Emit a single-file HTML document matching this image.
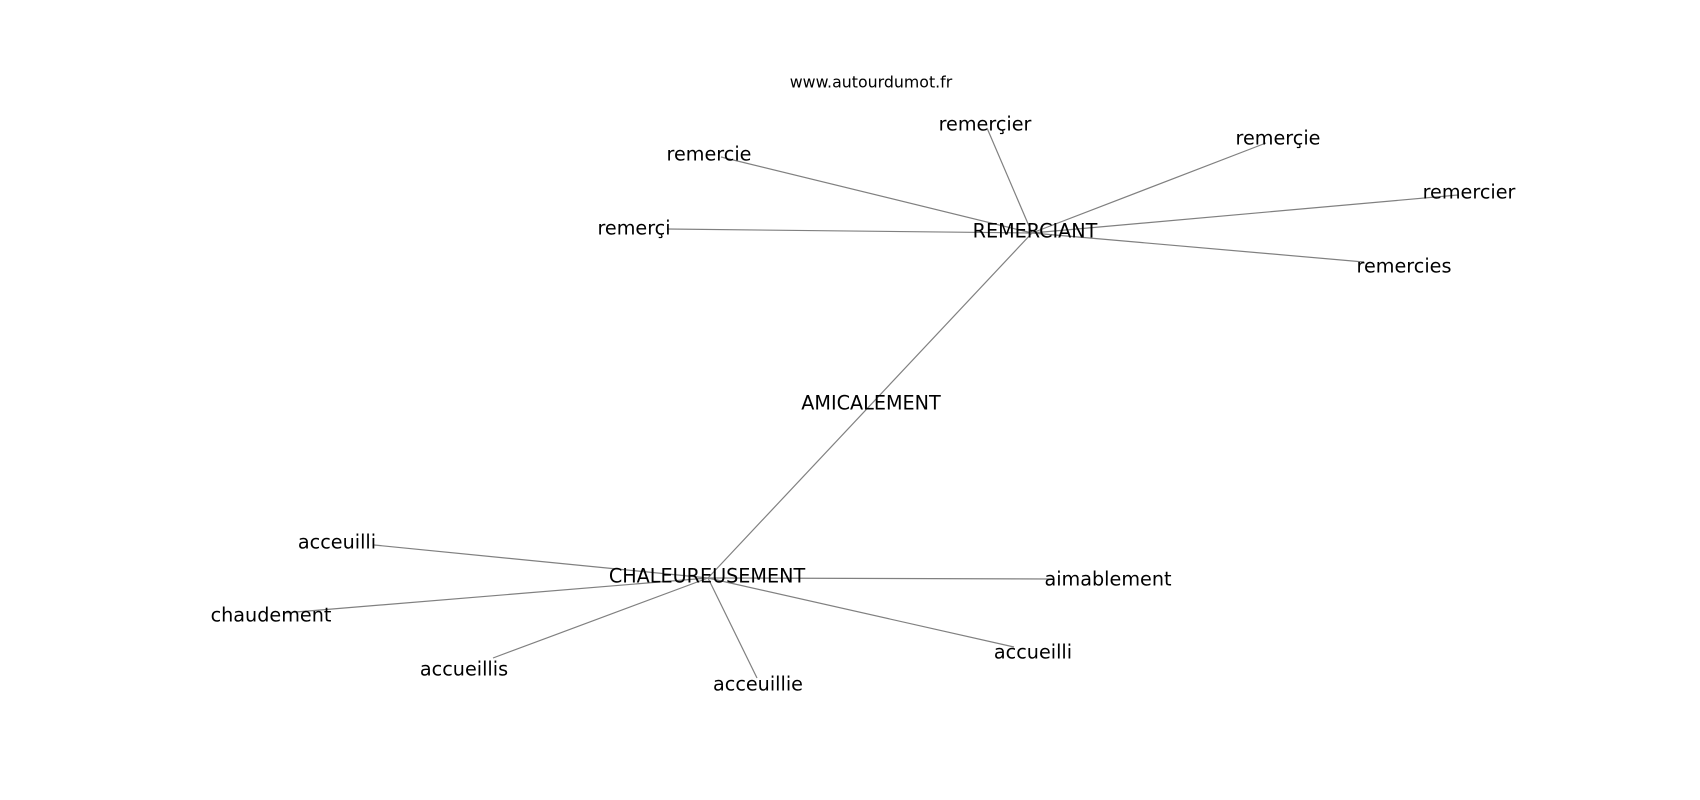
<!DOCTYPE html>
<html><head><meta charset="utf-8"><style>
html,body{margin:0;padding:0;background:#fff;}
svg{display:block;}
text{font-family:"DejaVu Sans","Liberation Sans",sans-serif;fill:#000;}
</style></head><body>
<svg width="1700" height="800" viewBox="0 0 1700 800" xmlns="http://www.w3.org/2000/svg">
<g stroke="#808080" stroke-width="1.2" fill="none">
<line x1="1032" y1="233" x2="987" y2="128"/>
<line x1="1032" y1="233" x2="721" y2="157"/>
<line x1="1032" y1="233" x2="667" y2="229"/>
<line x1="1032" y1="233" x2="1266" y2="143"/>
<line x1="1032" y1="233" x2="1458" y2="195"/>
<line x1="1032" y1="233" x2="1364" y2="262"/>
<line x1="1032" y1="233" x2="708" y2="578"/>
<line x1="708" y1="578" x2="374" y2="545"/>
<line x1="708" y1="578" x2="284" y2="613"/>
<line x1="708" y1="578" x2="493" y2="658"/>
<line x1="708" y1="578" x2="757" y2="678"/>
<line x1="708" y1="578" x2="1014" y2="647"/>
<line x1="708" y1="578" x2="1052" y2="579"/>
</g>
<g font-size="19.2" text-anchor="middle" dominant-baseline="central">
<text x="871" y="82" font-size="15.8">www.autourdumot.fr</text>
<text x="1035" y="231">REMERCIANT</text>
<text x="985" y="124">remerçier</text>
<text x="709" y="154">remercie</text>
<text x="634" y="228">remerçi</text>
<text x="1278" y="138">remerçie</text>
<text x="1469" y="192">remercier</text>
<text x="1404" y="266">remercies</text>
<text x="871" y="403">AMICALEMENT</text>
<text x="707" y="576">CHALEUREUSEMENT</text>
<text x="337" y="542">acceuilli</text>
<text x="271" y="615">chaudement</text>
<text x="464" y="669">accueillis</text>
<text x="758" y="684">acceuillie</text>
<text x="1033" y="652">accueilli</text>
<text x="1108" y="579">aimablement</text>
</g>
</svg>
</body></html>
